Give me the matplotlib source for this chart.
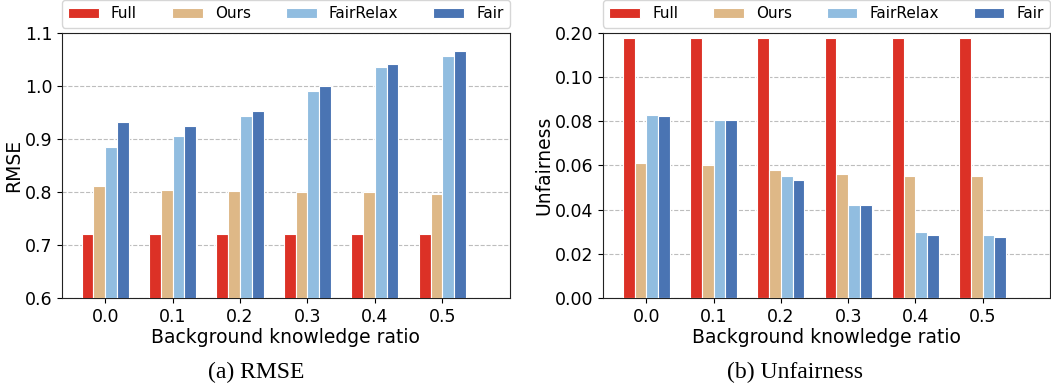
import numpy as np
import matplotlib
matplotlib.use('Agg')
import matplotlib.pyplot as plt

ratios = ['0.0', '0.1', '0.2', '0.3', '0.4', '0.5']
methods = ['Full', 'Ours', 'FairRelax', 'Fair']
colors = ['#dc3126', '#deb887', '#91bde0', '#4a74b3']

rmse_full = [0.721, 0.721, 0.721, 0.721, 0.721, 0.721]
rmse_ours = [0.811, 0.804, 0.802, 0.800, 0.799, 0.797]
rmse_fairrelax = [0.885, 0.906, 0.943, 0.991, 1.036, 1.057]
rmse_fair = [0.932, 0.925, 0.953, 0.999, 1.042, 1.065]

unf_full = [0.188, 0.188, 0.188, 0.188, 0.188, 0.188]
unf_ours = [0.0613, 0.0604, 0.0581, 0.0563, 0.0550, 0.0550]
unf_fairrelax = [0.0829, 0.0807, 0.0554, 0.0423, 0.0297, 0.0284]
unf_fair = [0.0824, 0.0806, 0.0536, 0.0423, 0.0284, 0.0275]


# y axis of the unfairness plot is compressed above 0.1
def fwd(v):
    v = np.asarray(v, dtype=float)
    return np.where(v <= 0.1, v, 0.1 + (v - 0.1) * 0.2)


def inv(v):
    v = np.asarray(v, dtype=float)
    return np.where(v <= 0.1, v, 0.1 + (v - 0.1) / 0.2)


def draw(ax, series, ylim, yticks, fmt, ylabel):
    x = np.arange(len(ratios))
    width = 0.175
    for k, (vals, name, c) in enumerate(zip(series, methods, colors)):
        ax.bar(x + (k - 1.5) * width, vals, width, color=c, label=name,
               edgecolor='white', linewidth=0.8, zorder=3)
    ax.set_xticks(x)
    ax.set_xticklabels(ratios, fontsize=12.5)
    ax.set_xlim(-0.64, 6.0)
    ax.set_ylim(*ylim)
    ax.set_yticks(yticks)
    ax.set_yticklabels([fmt % t for t in yticks], fontsize=12.5)
    ax.yaxis.grid(True, linestyle='--', color='#bdbdbd', linewidth=0.8, zorder=0)
    ax.set_axisbelow(True)
    ax.set_xlabel('Background knowledge ratio', fontsize=13.5, labelpad=2)
    ax.set_ylabel(ylabel, fontsize=13.5, labelpad=1)
    for s in ax.spines.values():
        s.set_color('#222222')
    ax.legend(loc='lower left', bbox_to_anchor=(0, 1.02, 1, 0.1), mode='expand',
              ncol=4, fontsize=11, borderaxespad=0, handlelength=2.0,
              frameon=True, fancybox=True)


fig = plt.figure(figsize=(10.51, 3.86), dpi=100)
ax1 = fig.add_axes([0.059, 0.228, 0.426, 0.687])
ax2 = fig.add_axes([0.574, 0.228, 0.425, 0.687])

draw(ax1, [rmse_full, rmse_ours, rmse_fairrelax, rmse_fair], (0.6, 1.1),
     [0.6, 0.7, 0.8, 0.9, 1.0, 1.1], '%.1f', 'RMSE')

ax2.set_yscale('function', functions=(fwd, inv))
draw(ax2, [unf_full, unf_ours, unf_fairrelax, unf_fair], (0, 0.2),
     [0.0, 0.02, 0.04, 0.06, 0.08, 0.10, 0.20], '%.2f', 'Unfairness')

fig.text(0.2436, 0.036, '(a) RMSE', ha='center', va='center', fontsize=17,
         family='Liberation Serif')
fig.text(0.7565, 0.036, '(b) Unfairness', ha='center', va='center', fontsize=17,
         family='Liberation Serif')

fig.savefig('out.png', dpi=100)
